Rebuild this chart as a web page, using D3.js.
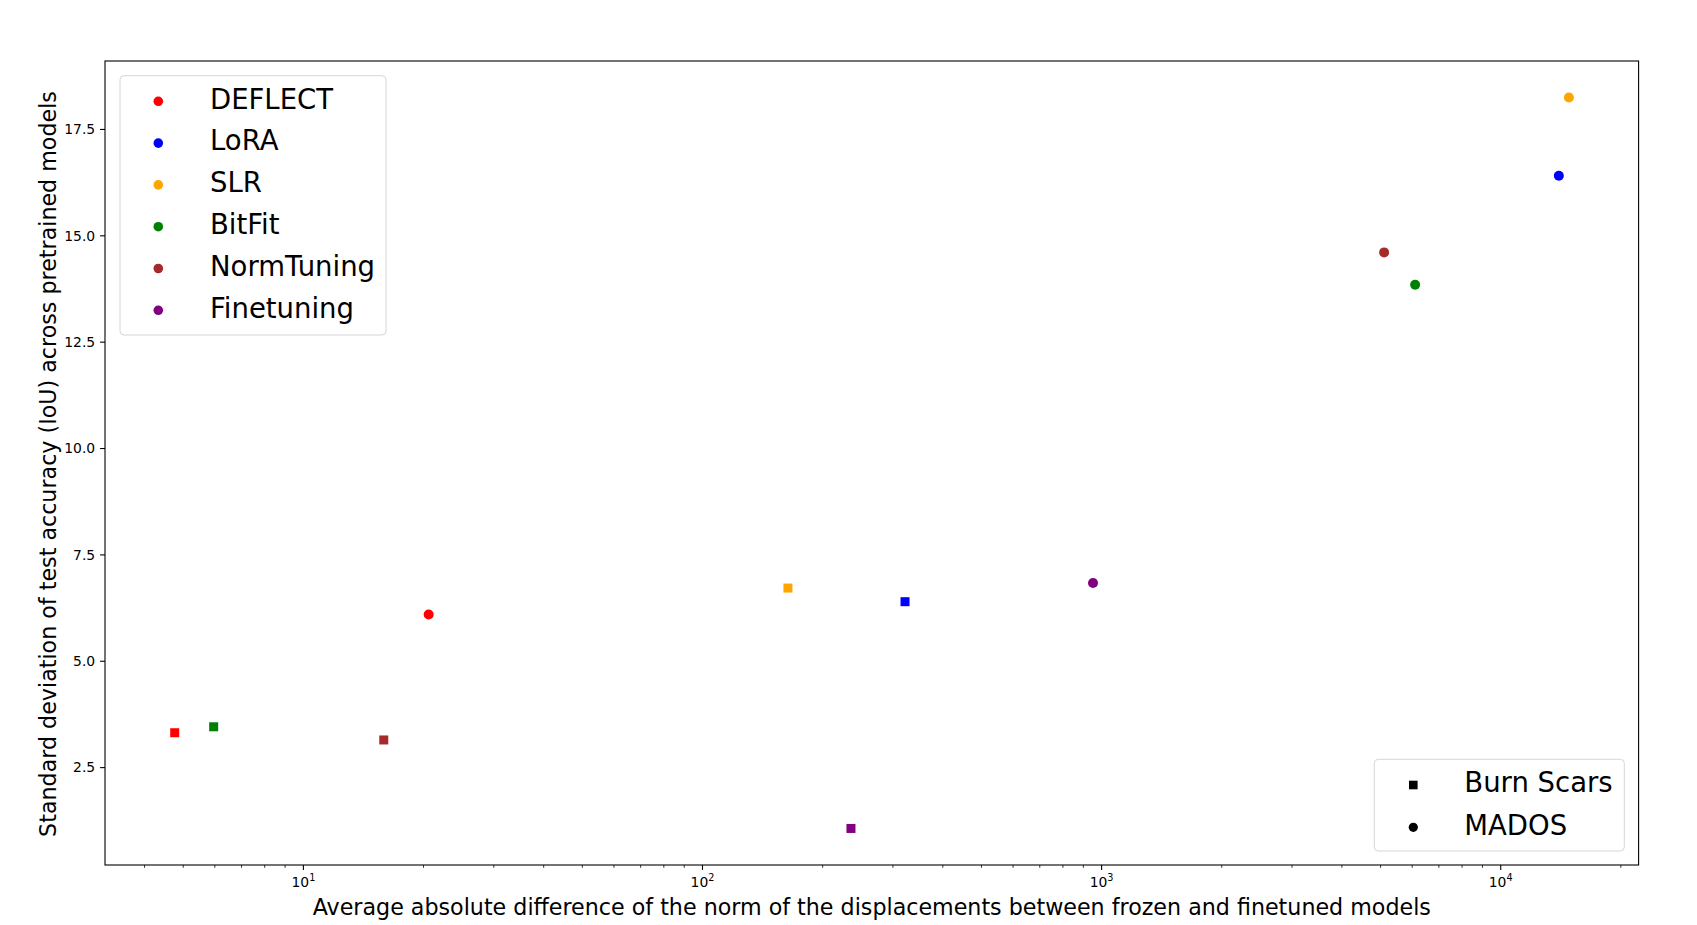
<!DOCTYPE html>
<html>
<head>
<meta charset="utf-8">
<script src="https://cdn.jsdelivr.net/npm/d3@7"></script>
<style>
body { margin: 0; background: #fff; }
text { font-family: "DejaVu Sans", sans-serif; fill: #000; }
</style>
</head>
<body>
<div id="main_div"></div>
<script>
// methods and their colours
var methods = ["DEFLECT", "LoRA", "SLR", "BitFit", "NormTuning", "Finetuning"];
var colors = ["red", "blue", "orange", "green", "brown", "purple"];
var datasets = ["Burn Scars", "MADOS"];

// Burn Scars (squares), in the order of methods
var burn_x = [4.76, 321.7, 163.7, 5.96, 15.9, 235.5];
var burn_y = [3.32, 6.40, 6.72, 3.46, 3.15, 1.07];
// MADOS (circles)
var mados_x = [20.6, 13983, 14818, 6103, 5103, 951.7];
var mados_y = [6.10, 16.41, 18.25, 13.85, 14.61, 6.84];

var y_ticks = [2.5, 5.0, 7.5, 10.0, 12.5, 15.0, 17.5];

var points = [];
methods.forEach(function(m, i) {
    points.push({method: m, color: colors[i], set: "Burn Scars", X: burn_x[i], Y: burn_y[i]});
});
methods.forEach(function(m, i) {
    points.push({method: m, color: colors[i], set: "MADOS", X: mados_x[i], Y: mados_y[i]});
});

var W = 1697, H = 925;
var ax_l = 105, ax_r = 1638.6, ax_t = 61, ax_b = 865;

// matplotlib style 5% margins
var lx = points.map(function(d) { return Math.log10(d.X); });
var lx0 = d3.min(lx), lx1 = d3.max(lx);
var mx = (lx1 - lx0) * 0.05;
var y0 = d3.min(points, function(d) { return d.Y; }), y1 = d3.max(points, function(d) { return d.Y; });
var my = (y1 - y0) * 0.05;

var x_scale = d3.scaleLog().domain([Math.pow(10, lx0 - mx), Math.pow(10, lx1 + mx)]).range([ax_l, ax_r]);
var y_scale = d3.scaleLinear().domain([y0 - my, y1 + my]).range([ax_b, ax_t]);

var svg = d3.select("#main_div").append("svg").attr("width", W).attr("height", H);

// ticks
var major = 4.9, minor = 2.8;
var xt = x_scale.ticks();
var g_x = svg.append("g");
xt.forEach(function(t) {
    var e = Math.round(Math.log10(t));
    var isMajor = Math.abs(Math.log10(t) - e) < 1e-9;
    var px = x_scale(t);
    g_x.append("line").attr("x1", px).attr("x2", px).attr("y1", ax_b).attr("y2", ax_b + (isMajor ? major : minor))
        .attr("stroke", "#000").attr("stroke-width", isMajor ? 1.1 : 0.8);
    if (isMajor) {
        var tx = g_x.append("text").attr("x", px).attr("y", ax_b + major + 4.9 + 12).attr("text-anchor", "middle")
            .attr("font-size", 13.9);
        tx.append("tspan").text("10");
        tx.append("tspan").attr("dy", -6).attr("font-size", 9.7).text(e);
    }
});

var g_y = svg.append("g");
y_ticks.forEach(function(t) {
    var py = y_scale(t);
    g_y.append("line").attr("x1", ax_l - major).attr("x2", ax_l).attr("y1", py).attr("y2", py)
        .attr("stroke", "#000").attr("stroke-width", 1.1);
    g_y.append("text").attr("x", ax_l - major - 4.9).attr("y", py).attr("dy", "0.35em")
        .attr("text-anchor", "end").attr("font-size", 13.9).text(t.toFixed(1));
});

// points
var sq = 9, r = 5;
var pts = svg.append("g");
pts.selectAll("rect").data(points.filter(function(d) { return d.set == "Burn Scars"; })).enter().append("rect")
    .attr("x", function(d) { return x_scale(d.X) - sq / 2; })
    .attr("y", function(d) { return y_scale(d.Y) - sq / 2; })
    .attr("width", sq).attr("height", sq)
    .attr("fill", function(d) { return d.color; });
pts.selectAll("circle").data(points.filter(function(d) { return d.set == "MADOS"; })).enter().append("circle")
    .attr("cx", function(d) { return x_scale(d.X); })
    .attr("cy", function(d) { return y_scale(d.Y); })
    .attr("r", r)
    .attr("fill", function(d) { return d.color; });

// frame
svg.append("rect").attr("x", ax_l).attr("y", ax_t).attr("width", ax_r - ax_l).attr("height", ax_b - ax_t)
    .attr("fill", "none").attr("stroke", "#000").attr("stroke-width", 1.1);

// axis labels
svg.append("text").attr("x", (ax_l + ax_r) / 2).attr("y", 915).attr("text-anchor", "middle")
    .attr("font-size", 22.2)
    .text("Average absolute difference of the norm of the displacements between frozen and finetuned models");
svg.append("text").attr("transform", "translate(56," + ((ax_t + ax_b) / 2 + 1) + ") rotate(-90)")
    .attr("text-anchor", "middle").attr("font-size", 22.2)
    .text("Standard deviation of test accuracy (IoU) across pretrained models");

// legend of methods
var leg1 = svg.append("g");
leg1.append("rect").attr("x", 120).attr("y", 75.7).attr("width", 266).attr("height", 259.3)
    .attr("rx", 4).attr("fill", "#fff").attr("fill-opacity", 0.8).attr("stroke", "#d6d6d6");
methods.forEach(function(m, i) {
    var yy = 101.3 + i * 41.8;
    leg1.append("circle").attr("cx", 158.3).attr("cy", yy).attr("r", 4.8).attr("fill", colors[i]);
    leg1.append("text").attr("x", 210).attr("y", yy + 7.2).attr("font-size", 27.5).text(m);
});

// legend of datasets
var leg2 = svg.append("g");
leg2.append("rect").attr("x", 1374.3).attr("y", 759.3).attr("width", 250).attr("height", 91.7)
    .attr("rx", 4).attr("fill", "#fff").attr("fill-opacity", 0.8).attr("stroke", "#d6d6d6");
datasets.forEach(function(s, i) {
    var yy = 785 + i * 42.3;
    if (i == 0) {
        leg2.append("rect").attr("x", 1413.3 - 4.3).attr("y", yy - 4.3).attr("width", 8.6).attr("height", 8.6).attr("fill", "#000");
    } else {
        leg2.append("circle").attr("cx", 1413.3).attr("cy", yy).attr("r", 4.6).attr("fill", "#000");
    }
    leg2.append("text").attr("x", 1464.3).attr("y", yy + 7.3).attr("font-size", 27.5).text(s);
});
</script>
</body>
</html>
